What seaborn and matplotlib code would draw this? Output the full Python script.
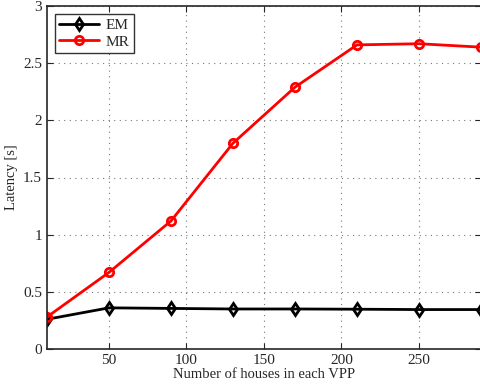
import numpy as np
import pandas as pd
import seaborn as sns
import matplotlib.pyplot as plt

houses = [10, 50, 90, 130, 170, 210, 250, 290]
em_latency = [0.26, 0.36, 0.355, 0.35, 0.35, 0.348, 0.345, 0.345]
mr_latency = [0.28, 0.67, 1.12, 1.80, 2.29, 2.66, 2.67, 2.64]

sns.set_style("ticks")
plt.rcParams['font.family'] = ['Liberation Serif', 'DejaVu Serif']

df = pd.DataFrame({
    "houses": houses * 2,
    "latency": em_latency + mr_latency,
    "method": ["EM"] * len(houses) + ["MR"] * len(houses),
})

fig = plt.figure(figsize=(4.81, 3.87), dpi=100)
ax = fig.add_axes([47 / 481, 38 / 387, 434 / 481, 343 / 387])

sns.lineplot(data=df, x="houses", y="latency", hue="method", style="method",
             palette={"EM": "black", "MR": "red"},
             markers={"EM": "d", "MR": "o"}, dashes=False,
             linewidth=2, markersize=6, markeredgewidth=2,
             markerfacecolor="none", ax=ax)

for line in ax.lines:
    line.set_markerfacecolor("none")
    line.set_markeredgecolor(line.get_color())

ax.set_xlim(10, 290)
ax.set_ylim(0, 3)
ax.set_xticks([50, 100, 150, 200, 250])
ax.set_yticks(np.arange(0, 3.01, 0.5))
ax.set_yticklabels(["0", "0.5", "1", "1.5", "2", "2.5", "3"])
ax.grid(True, linestyle=(0, (1, 4)), color="#777777", linewidth=0.8)
ax.tick_params(direction="in", labelsize=11, length=4, top=True, right=True)
for s in ax.spines.values():
    s.set_visible(True)
    s.set_linewidth(1.2)
ax.set_xlabel("Number of houses in each VPP", fontsize=10.5, labelpad=1)
ax.set_ylabel("Latency [s]", fontsize=10.5)

leg = ax.legend(loc="upper left", fontsize=11, frameon=True, fancybox=False,
                edgecolor="black", borderpad=0.3, handlelength=2.6,
                labelspacing=0.2, borderaxespad=0.5, handletextpad=0.4)
leg.get_frame().set_linewidth(1.0)
for h in leg.get_lines():
    h.set_markerfacecolor("none")

fig.savefig("out.png", dpi=100)
